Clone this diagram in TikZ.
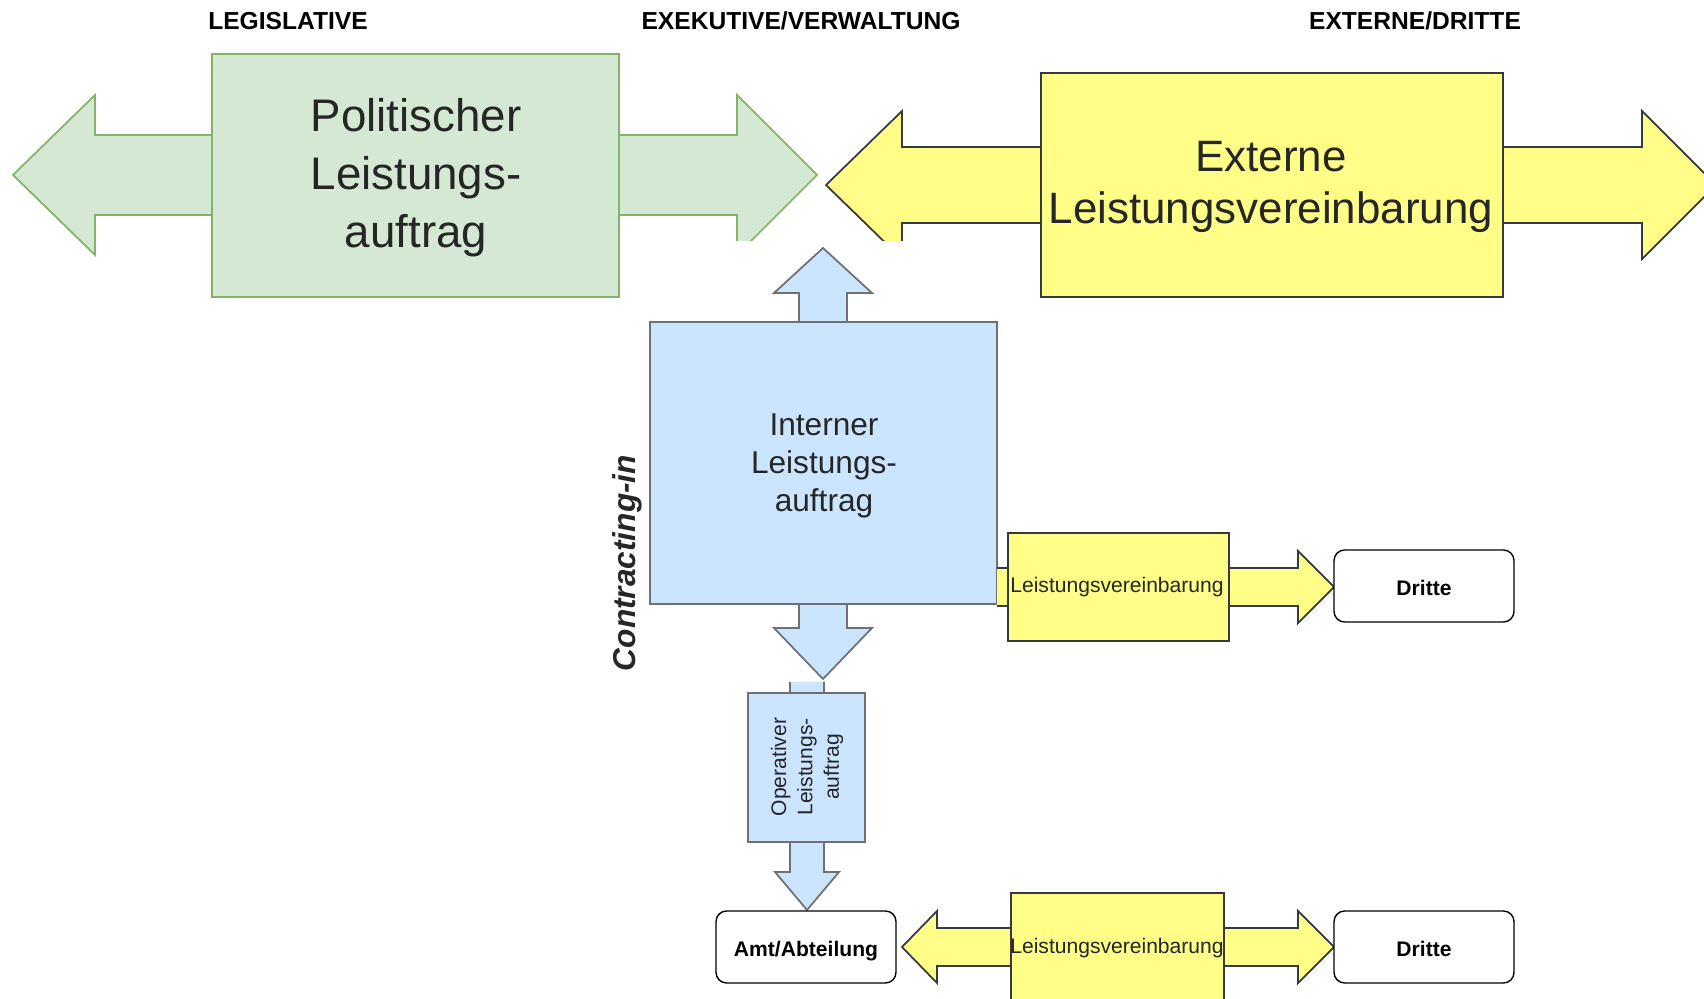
\documentclass[tikz,border=0pt]{standalone}
\usepackage{fontspec}
\setmainfont{Liberation Sans}
\definecolor{gruen}{HTML}{D5E8D4}
\definecolor{gruenrand}{HTML}{82B366}
\definecolor{gelb}{HTML}{FFFF88}
\definecolor{blau}{HTML}{CCE5FF}
\definecolor{rand}{HTML}{36393D}
\definecolor{blaurand}{HTML}{6E7073}
\begin{document}
\begin{tikzpicture}[x=0.02cm, y=-0.02cm,
        gr/.style={fill=gruen, draw=gruenrand, line width=1pt},
        ge/.style={fill=gelb, draw=rand, line width=1pt},
        bl/.style={fill=blau, draw=blaurand, line width=1pt},
        kasten/.style={draw=black, fill=white, rounded corners=6pt, line width=0.8pt,
            minimum width=3.6cm, minimum height=1.44cm, text height=10.7pt, text depth=0pt,
            font=\bfseries\fontsize{12}{14}\selectfont},
        kopf/.style={font=\bfseries\fontsize{14}{16}\selectfont},
        txt/.style={text=black!85, align=center}]
        \useasboundingbox (0,0) rectangle (1704,999);
        % top: political and external arrows
        \draw[gr] (13,175) -- (95,95) -- (95,135) -- (737,135) -- (737,95) -- (817,175)
            -- (737,255) -- (737,215) -- (95,215) -- (95,255) -- cycle;
        \draw[gr] (212,54) rectangle (619,297);
        \draw[ge] (826,185) -- (902,111) -- (902,147) -- (1642,147) -- (1642,111) -- (1716,185)
            -- (1642,259) -- (1642,223) -- (902,223) -- (902,259) -- cycle;
        \draw[ge] (1041,73) rectangle (1503,297);
        \fill[white] (735,241) rectangle (904,300);
        % internal
        \draw[bl] (823,248) -- (872,293) -- (847,293) -- (847,628) -- (872,628) -- (823,679)
            -- (774,628) -- (799,628) -- (799,293) -- (774,293) -- cycle;
        \draw[bl] (650,322) rectangle (997,604);
        \fill[blau] (790,682) -- (790,872) -- (775,872) -- (807,910) -- (839,872) -- (824,872) -- (824,682) -- cycle;
        \draw[blaurand, line width=1pt] (790,682) -- (790,872) -- (775,872) -- (807,910) -- (839,872) -- (824,872) -- (824,682);
        \draw[bl] (748,693) rectangle (865,842);
        \draw[ge] (997,568) -- (1298,568) -- (1298,551) -- (1334,587) -- (1298,623) -- (1298,606) -- (997,606);
        \draw[ge] (1008,533) rectangle (1229,641);
        \draw[ge] (902,947) -- (937,911) -- (937,928) -- (1298,928) -- (1298,911) -- (1334,947)
            -- (1298,983) -- (1298,966) -- (937,966) -- (937,983) -- cycle;
        \draw[ge] (1011,893) rectangle (1224,1010);
        % boxes
        \node[kasten] (amt) at (806,947) {Amt/Abteilung};
        \node[kasten] (dritteA) at (1424,586) {Dritte};
        \node[kasten] (dritteB) at (1424,947) {Dritte};
        % texts
        \node[kopf] (legis) at (288,21) {LEGISLATIVE};
        \node[kopf] (exek) at (801,21) {EXEKUTIVE/VERWALTUNG};
        \node[kopf] (extern) at (1415,21) {EXTERNE/DRITTE};
        \node[txt, font=\fontsize{26}{33}\selectfont] (polit) at (416,178) {Politischer\\Leistungs-\\auftrag};
        \node[txt, font=\fontsize{25}{30}\selectfont] (extLv) at (1271,187) {Externe\\Leistungsvereinbarung};
        \node[txt, font=\fontsize{18}{21.5}\selectfont] (intern) at (824,466) {Interner\\Leistungs-\\auftrag};
        \node[txt, rotate=90, font=\bfseries\itshape\fontsize{18}{21}\selectfont] (contr) at (627,563) {Contracting-in};
        \node[txt, rotate=90, font=\fontsize{12}{15}\selectfont] (oper) at (807,767) {Operativer\\Leistungs-\\auftrag};
        \node[txt, font=\fontsize{12}{14}\selectfont] (lvMitte) at (1117,587) {Leistungsvereinbarung};
        \node[txt, font=\fontsize{12}{14}\selectfont] (lvUnten) at (1117,948) {Leistungsvereinbarung};
    \end{tikzpicture}
\end{document}
